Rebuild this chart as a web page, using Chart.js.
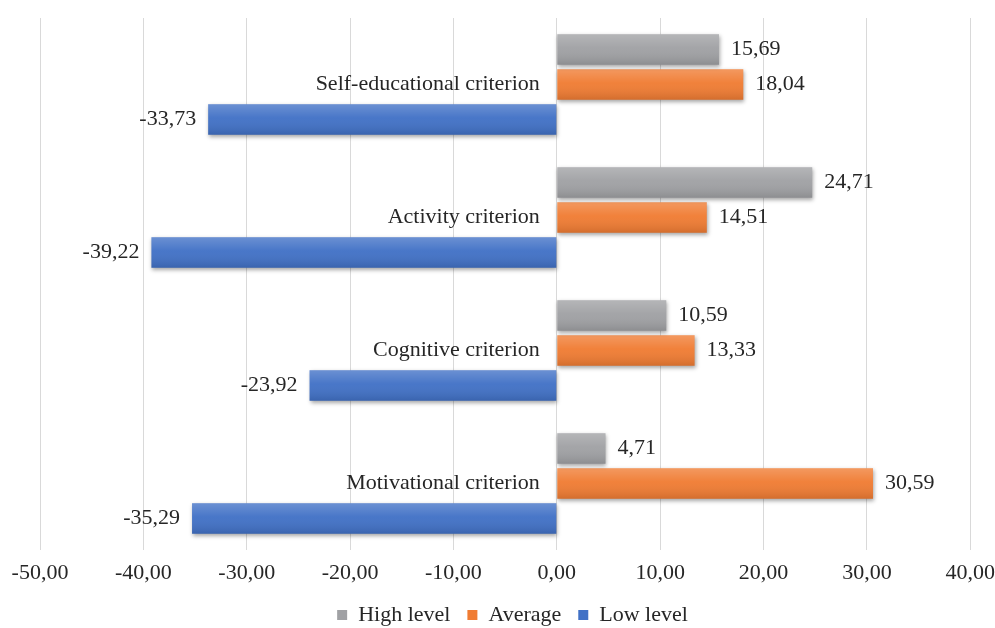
<!DOCTYPE html>
<html>
<head>
<meta charset="utf-8">
<script src="https://cdn.jsdelivr.net/npm/chart.js@4.4.0/dist/chart.umd.min.js"></script>
<style>
  html, body { margin: 0; padding: 0; background: #ffffff; overflow: hidden; width: 995px; height: 628px; }
  #wrap { width: 1005px; height: 628px; position: relative; }
</style>
</head>
<body>
<div id="wrap"><canvas id="c"></canvas></div>
<script>
const categories = ["Self-educational criterion", "Activity criterion", "Cognitive criterion", "Motivational criterion"];
const highLevel = [15.69, 24.71, 10.59, 4.71];
const averageLevel = [18.04, 14.51, 13.33, 30.59];
const lowLevel = [-33.73, -39.22, -23.92, -35.29];
const seriesNames = ["High level", "Average", "Low level"];
const axisMin = -50;
const axisMax = 40;
const axisStep = 10;

const FONT = "'Liberation Serif', 'Times New Roman', serif";
const TEXT = "#262626";

function fmt(v) { return v.toFixed(2).replace('.', ','); }

const shadePlugin = {
  id: 'shade',
  beforeDatasetDraw(chart) {
    const ctx = chart.ctx;
    ctx.save();
    ctx.shadowColor = 'rgba(0,0,0,0.35)';
    ctx.shadowBlur = 4;
    ctx.shadowOffsetX = 1;
    ctx.shadowOffsetY = 2;
  },
  afterDatasetDraw(chart, args) {
    const ctx = chart.ctx;
    ctx.restore();
    const meta = args.meta;
    meta.data.forEach(bar => {
      const top = bar.y - bar.height / 2;
      const bottom = bar.y + bar.height / 2;
      const left = Math.min(bar.x, bar.base);
      const w = Math.abs(bar.x - bar.base);
      const g = ctx.createLinearGradient(0, top, 0, bottom);
      g.addColorStop(0, 'rgba(255,255,255,0.22)');
      g.addColorStop(0.45, 'rgba(255,255,255,0.04)');
      g.addColorStop(1, 'rgba(0,0,0,0.12)');
      ctx.save();
      ctx.fillStyle = g;
      ctx.fillRect(left, top, w, bottom - top);
      ctx.restore();
    });
  }
};

const labelPlugin = {
  id: 'valueLabels',
  afterDatasetsDraw(chart) {
    const ctx = chart.ctx;
    ctx.save();
    ctx.font = "22px " + FONT;
    ctx.fillStyle = TEXT;
    ctx.textBaseline = 'middle';
    chart.data.datasets.forEach((ds, di) => {
      const meta = chart.getDatasetMeta(di);
      meta.data.forEach((bar, i) => {
        const v = ds.data[i];
        if (v >= 0) { ctx.textAlign = 'left'; ctx.fillText(fmt(v), bar.x + 12, bar.y); }
        else { ctx.textAlign = 'right'; ctx.fillText(fmt(v), bar.x - 12, bar.y); }
      });
    });
    const xs = chart.scales.x, ys = chart.scales.y;
    const x0 = xs.getPixelForValue(0);
    ctx.textAlign = 'right';
    chart.data.labels.forEach((lab, i) => {
      ctx.fillText(lab, x0 - 17, ys.getPixelForValue(i));
    });
    ctx.restore();
  }
};

new Chart(document.getElementById('c'), {
  type: 'bar',
  data: {
    labels: categories,
    datasets: [
      { label: seriesNames[0], data: highLevel, backgroundColor: '#a0a1a4' },
      { label: seriesNames[1], data: averageLevel, backgroundColor: '#f07c33' },
      { label: seriesNames[2], data: lowLevel, backgroundColor: '#4171c6' }
    ]
  },
  options: {
    indexAxis: 'y',
    responsive: true,
    maintainAspectRatio: false,
    animation: false,
    categoryPercentage: 0.79,
    barPercentage: 0.87,
    layout: { padding: { left: 20, right: 0, top: 18, bottom: -8 } },
    scales: {
      x: {
        min: axisMin, max: axisMax,
        ticks: {
          stepSize: axisStep,
          callback: v => fmt(v),
          color: TEXT,
          font: { family: FONT, size: 22 },
          padding: 10,
          maxRotation: 0
        },
        grid: { color: '#d9d9d9', lineWidth: 1, drawTicks: false },
        border: { display: false },
        afterFit(scale) { scale.height = 37; }
      },
      y: {
        display: true,
        ticks: { display: false },
        grid: { display: false },
        border: { display: false },
        afterFit(scale) { scale.width = 20; }
      }
    },
    plugins: {
      legend: {
        position: 'bottom',
        labels: {
          color: TEXT,
          font: { family: FONT, size: 22 },
          boxWidth: 10,
          boxHeight: 10,
          padding: 17
        }
      },
      tooltip: { enabled: false }
    }
  },
  plugins: [shadePlugin, labelPlugin]
});
</script>
</body>
</html>
